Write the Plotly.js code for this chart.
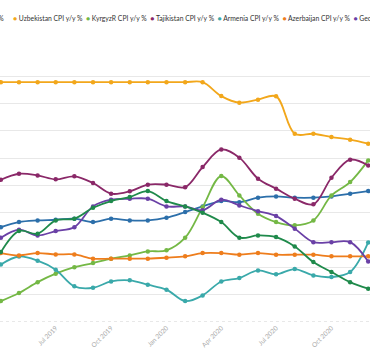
<!DOCTYPE html>
<html>
<head>
<meta charset="utf-8">
<script src="https://cdn.plot.ly/plotly-3.0.1.min.js"></script>
<style>html,body{margin:0;padding:0;background:#fff;}#chart{width:370px;height:355px;}</style>
</head>
<body>
<div id="chart"></div>
<script>
const months = ['2019-04-01','2019-05-01','2019-06-01','2019-07-01','2019-08-01','2019-09-01','2019-10-01','2019-11-01','2019-12-01','2020-01-01','2020-02-01','2020-03-01','2020-04-01','2020-05-01','2020-06-01','2020-07-01','2020-08-01','2020-09-01','2020-10-01','2020-11-01','2020-12-01'];
const names = ['Kazakhstan CPI y/y %','Uzbekistan CPI y/y %','KyrgyzR CPI y/y %','Tajikistan CPI y/y %','Armenia CPI y/y %','Azerbaijan CPI y/y %','Georgia CPI y/y %','Moldova CPI y/y %'];
const colors = ['#2c6faa','#f2a71b','#74b845','#8a2868','#3aa9aa','#ee7d1c','#6a40a6','#1f8a4b'];
const kazakhstan = [4.95,5.32,5.44,5.49,5.57,5.32,5.57,5.44,5.44,5.64,6.05,6.47,6.86,6.78,7.11,7.20,7.11,7.11,7.20,7.40,7.59];
const uzbekistan = [15.57,15.57,15.57,15.57,15.57,15.57,15.57,15.57,15.57,15.57,15.57,15.57,14.55,14.07,14.29,14.53,11.79,11.79,11.55,11.36,11.06];
const kyrgyz = [-0.47,0.12,0.92,1.54,2.02,2.32,2.64,2.88,3.17,3.25,4.18,6.40,8.69,7.27,5.93,5.32,5.08,5.44,7.27,8.25,9.84];
const tajikistan = [8.42,8.86,8.74,8.45,8.67,8.18,7.40,7.57,8.06,8.06,7.88,9.35,10.64,10.04,8.50,7.77,7.03,6.62,8.57,9.89,9.47];
const armenia = [2.22,2.80,2.49,1.83,0.61,0.51,0.97,1.05,0.73,0.37,-0.47,-0.05,0.97,1.22,1.78,1.49,1.88,1.41,1.29,1.66,3.83];
const azerbaijan = [3.05,2.88,3.05,2.95,2.95,2.64,2.64,2.64,2.64,2.71,2.81,3.05,3.05,2.93,3.05,2.93,2.93,2.93,2.81,2.81,2.81];
const georgia = [4.18,4.76,4.34,4.66,4.95,6.47,6.96,7.03,7.03,6.47,6.47,6.18,6.96,6.54,6.12,5.76,4.84,3.85,3.85,3.85,2.44];
const moldova = [3.12,4.66,4.47,5.44,5.57,6.37,6.86,7.15,7.59,6.86,6.47,6.01,5.32,4.18,4.34,4.22,3.54,2.39,1.66,0.92,0.44];
const series = [kazakhstan, uzbekistan, kyrgyz, tajikistan, armenia, azerbaijan, georgia, moldova];

const W = 370;
const traces = series.map((vals, i) => ({
  type: 'scatter', mode: 'lines+markers', name: names[i], x: months, y: vals,
  line: {color: colors[i], width: 1.8, shape: 'spline', smoothing: 1},
  marker: {color: colors[i], size: 4.5},
  showlegend: false, hoverinfo: 'x+y+name'
}));

function item(i){ return '<span style="color:' + colors[i] + '">\u25CF</span>\u00a0' + names[i]; }
const restText = names.slice(1).map((n, j) => item(j + 1)).join('\u00a0\u00a0');

const layout = {
  width: 370, height: 355,
  margin: {l: 0, r: 0, t: 49, b: 33, pad: 0},
  paper_bgcolor: '#ffffff', plot_bgcolor: '#ffffff',
  font: {family: 'Lato, "Open Sans", sans-serif', color: '#999'},
  showlegend: false,
  xaxis: {
    type: 'date', range: ['2019-03-30 12:00', '2020-12-04'],
    dtick: 'M3', tick0: '2019-01-01', tickformat: '%b %Y', tickangle: -45,
    tickfont: {size: 6.5, color: '#aaa'}, showgrid: false, zeroline: false,
    showline: false, ticks: '', automargin: false
  },
  yaxis: {
    range: [-2, 18], dtick: 2, showticklabels: false, automargin: false,
    gridcolor: '#e8e8e8', gridwidth: 1, zeroline: false, showline: false, ticks: ''
  },
  shapes: [{type: 'line', xref: 'paper', x0: 0, x1: 1, yref: 'y', y0: -2, y1: -2,
            line: {color: '#d0d0d0', width: 1, dash: 'dot'}, layer: 'below'}],
  annotations: [
    {xref: 'paper', yref: 'paper', x: 6 / W, y: 1, yshift: 31, xanchor: 'right', yanchor: 'middle',
     text: item(0), showarrow: false, font: {size: 6.8, color: '#333', family: 'Lato, sans-serif'}},
    {xref: 'paper', yref: 'paper', x: 11 / W, y: 1, yshift: 31, xanchor: 'left', yanchor: 'middle',
     text: restText, showarrow: false, font: {size: 6.8, color: '#333', family: 'Lato, sans-serif'}}
  ]
};

Plotly.newPlot('chart', traces, layout, {displayModeBar: false, staticPlot: true});
</script>
</body>
</html>
